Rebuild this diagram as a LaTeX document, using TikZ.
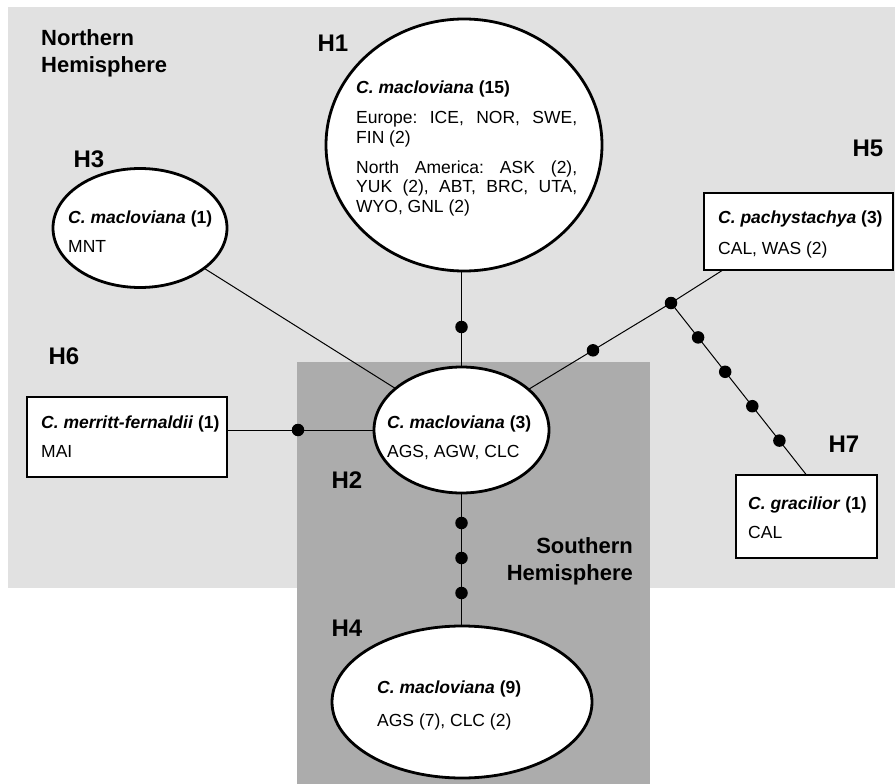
\documentclass[tikz,border=0pt]{standalone}
\usepackage{fontspec}
\setmainfont{Liberation Sans}
\usetikzlibrary{shapes.geometric,calc}
\definecolor{lightbg}{RGB}{225,225,225}
\definecolor{darkbg}{RGB}{172,172,172}
\newcommand\bodyfont{\fontsize{17.5}{20}\selectfont\frenchspacing}
\newcommand\spname[1]{{\bfseries\itshape #1}}
\newcommand\jline[1]{\makebox[221pt][s]{#1}}
\begin{document}
\begin{tikzpicture}[x=1pt,y=-1pt,
  hap/.style={ellipse, draw, line width=2.8pt, fill=white, inner sep=0pt, outer sep=0pt},
  hbox/.style={rectangle, draw, line width=2.8pt, fill=white, inner sep=0pt, outer sep=0pt},
  txt/.style={font=\bodyfont, anchor=base west, inner sep=0pt},
  hlabel/.style={font=\fontsize{24}{28}\selectfont\bfseries, inner sep=0pt},
  region/.style={font=\fontsize{22}{27}\selectfont\bfseries, inner sep=0pt},
  link/.style={line width=1pt},
  dot/.style={circle, fill=black, inner sep=0pt, minimum size=12.5pt}]
\useasboundingbox (0,0) rectangle (895,784);
% regions
\fill[lightbg] (8,7) rectangle (895,588);
\fill[darkbg] (297,362) rectangle (650,784);
\node[region, anchor=base west] (nh1) at (41,46) {Northern};
\node[region, anchor=base west] (nh2) at (41,73) {Hemisphere};
\node[region, anchor=base east] (sh1) at (633,553) {Southern};
\node[region, anchor=base east] (sh2) at (633,580) {Hemisphere};
% haplotype shapes
\node[hap, minimum width=276pt, minimum height=252pt] (H1) at (464,145) {};
\node[hap, minimum width=175pt, minimum height=126pt] (H2) at (461.5,430) {};
\node[hap, minimum width=174pt, minimum height=119pt] (H3) at (140,228) {};
\node[hap, minimum width=260pt, minimum height=152pt] (H4) at (462,702) {};
\node[hbox, minimum width=189pt, minimum height=77pt] (H5) at (798.5,231.5) {};
\node[hbox, minimum width=200pt, minimum height=80pt] (H6) at (127,437) {};
\node[hbox, minimum width=141pt, minimum height=83pt] (H7) at (806.5,516.5) {};
% haplotype labels
\node[hlabel] (L1) at (333,43) {H1};
\node[hlabel] (L2) at (347,480) {H2};
\node[hlabel] (L3) at (89,159) {H3};
\node[hlabel] (L4) at (347,628) {H4};
\node[hlabel] (L5) at (868,148) {H5};
\node[hlabel] (L6) at (64,356) {H6};
\node[hlabel] (L7) at (844,444) {H7};
% texts
\node[txt] (t1a) at (356,94) {\spname{C. macloviana} \textbf{(15)}};
\node[txt] (t1b) at (356,124) {\jline{Europe: ICE, NOR, SWE,}};
\node[txt] (t1c) at (356,143) {FIN (2)};
\node[txt] (t1d) at (356,173) {\jline{North America: ASK (2),}};
\node[txt] (t1e) at (356,192) {\jline{YUK (2), ABT, BRC, UTA,}};
\node[txt] (t1f) at (356,212) {WYO, GNL (2)};
\node[txt] (t2a) at (387,428) {\spname{C. macloviana} \textbf{(3)}};
\node[txt] (t2b) at (387,457) {AGS, AGW, CLC};
\node[txt] (t3a) at (68,223) {\spname{C. macloviana} \textbf{(1)}};
\node[txt] (t3b) at (68,252) {MNT};
\node[txt] (t4a) at (377,693) {\spname{C. macloviana} \textbf{(9)}};
\node[txt] (t4b) at (377,726) {AGS (7), CLC (2)};
\node[txt] (t5a) at (718,223) {\spname{C. pachystachya} \textbf{(3)}};
\node[txt] (t5b) at (718,254) {CAL, WAS (2)};
\node[txt] (t6a) at (41,428) {\spname{C. merritt-fernaldii} \textbf{(1)}};
\node[txt] (t6b) at (41,457) {MAI};
\node[txt] (t7a) at (748,509) {\spname{C. gracilior} \textbf{(1)}};
\node[txt] (t7b) at (748,538) {CAL};
% connectors
\coordinate (J) at (671,303);
\coordinate (H5a) at ($(H5.south west)!0.1!(H5.south east)$);
\draw[link] (H2.north) -- (H2.north |- H1.south);
\draw[link] (H2.south) -- (H2.south |- H4.north);
\draw[link] (H3) -- (H2);
\draw[link] (H2.west) -- (H2.west -| H6.east);
\draw[link] (H2) -- (J) -- (H5a);
\draw[link] (J) -- (H7.north);
% mutation dots
\node[dot] (d1) at (461.5,327) {};
\node[dot] (d2) at (298,430) {};
\node[dot] (d3) at (593,350.3) {};
\node[dot] (d4) at (J) {};
\node[dot] (d5) at ($(J)!0.2!(H7.north)$) {};
\node[dot] (d6) at ($(J)!0.4!(H7.north)$) {};
\node[dot] (d7) at ($(J)!0.6!(H7.north)$) {};
\node[dot] (d8) at ($(J)!0.8!(H7.north)$) {};
\node[dot] (d9) at (461.5,523) {};
\node[dot] (d10) at (461.5,558) {};
\node[dot] (d11) at (461.5,593) {};
\end{tikzpicture}
\end{document}
